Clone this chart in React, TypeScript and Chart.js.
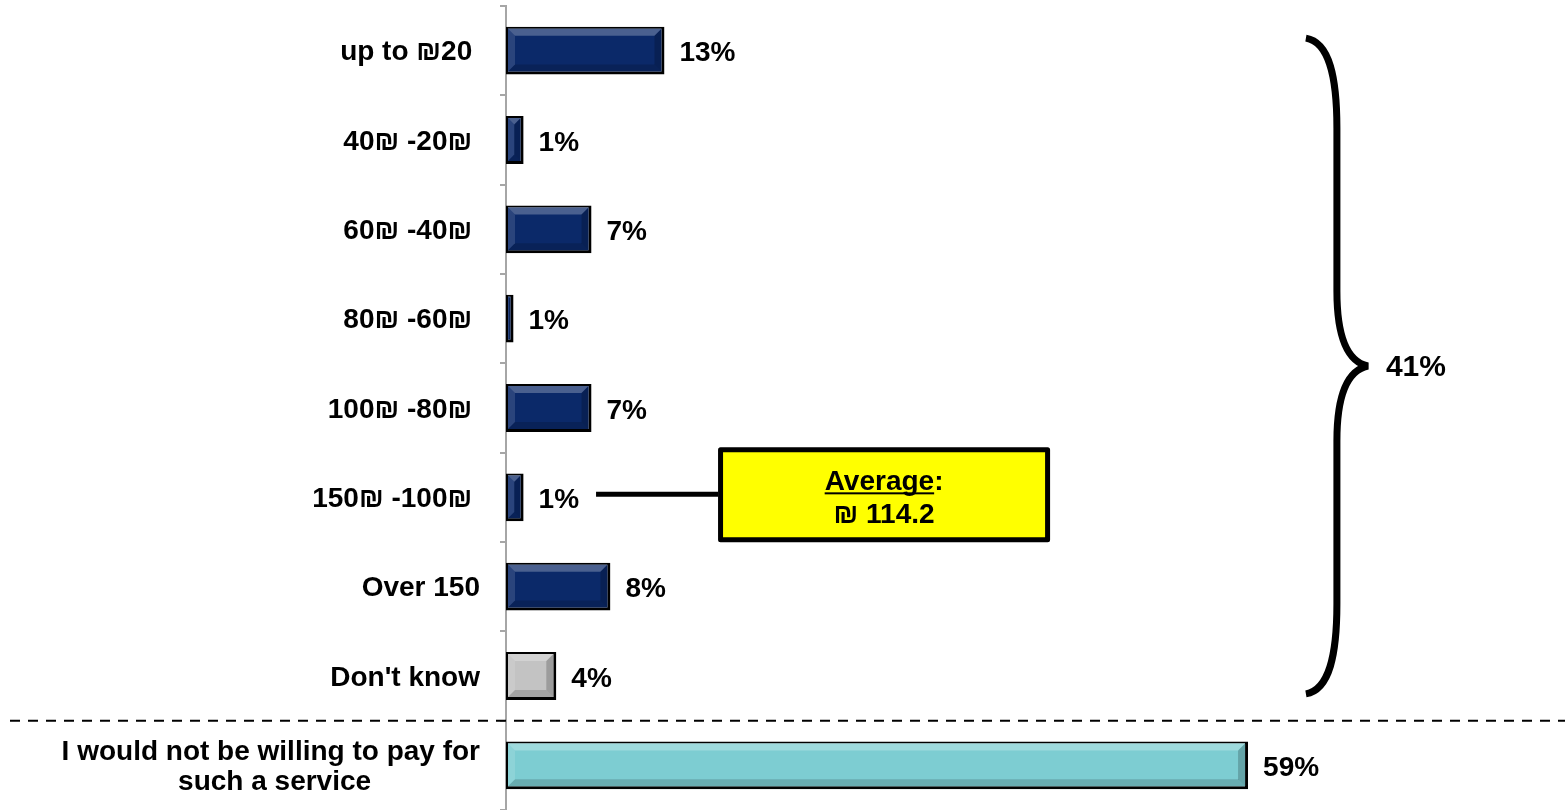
import React, { useEffect, useRef } from "react";
import { Chart, registerables } from "chart.js";

Chart.register(...registerables);

// ---------- data ----------
const categories: (string | string[])[] = [
  "up to ₪20 ",
  "40₪ -20₪ ",
  "60₪ -40₪ ",
  "80₪ -60₪ ",
  "100₪ -80₪ ",
  "150₪ -100₪ ",
  "Over 150",
  "Don't know",
  ["I would not be willing to pay for", "such a service"],
];
const values = [12.6, 1.4, 6.8, 0.6, 6.8, 1.4, 8.3, 4.0, 59.0];
const barColors = [
  "#0b2969",
  "#0b2969",
  "#0b2969",
  "#0b2969",
  "#0b2969",
  "#0b2969",
  "#0b2969",
  "#c3c3c3",
  "#7dcdd2",
];
const groupTotal = 41; // share willing to pay (bracketed group)
const averageValue = 114.2;
const xMax = 84.2;

const FONT = '"Liberation Sans", Arial, "DejaVu Sans", sans-serif';

// ---------- plugins ----------
const bevelPlugin = {
  id: "bevel",
  afterDatasetsDraw(chart: any) {
    const ctx = chart.ctx;
    const meta = chart.getDatasetMeta(0);
    ctx.save();
    meta.data.forEach((el: any) => {
      const p = el.getProps(["x", "y", "base", "height"], true);
      const l = Math.min(p.base, p.x) + 2;
      const r = Math.max(p.base, p.x) - 3;
      const t = p.y - p.height / 2 + 2;
      const bm = p.y + p.height / 2 - 3;
      if (r - l <= 1) return;
      const b = Math.min(7, (r - l) / 2, (bm - t) / 2);
      const poly = (pts: number[][], color: string) => {
        ctx.beginPath();
        ctx.moveTo(pts[0][0], pts[0][1]);
        for (let i = 1; i < pts.length; i++) ctx.lineTo(pts[i][0], pts[i][1]);
        ctx.closePath();
        ctx.fillStyle = color;
        ctx.fill();
      };
      poly([[l, t], [r, t], [r - b, t + b], [l + b, t + b]], "rgba(255,255,255,0.26)");
      poly([[l, t], [l + b, t + b], [l + b, bm - b], [l, bm]], "rgba(255,255,255,0.13)");
      poly([[l, bm], [l + b, bm - b], [r - b, bm - b], [r, bm]], "rgba(0,0,0,0.16)");
      poly([[r, t], [r, bm], [r - b, bm - b], [r - b, t + b]], "rgba(0,0,0,0.2)");
    });
    ctx.restore();
  },
};

const valueLabelPlugin = {
  id: "valueLabels",
  afterDatasetsDraw(chart: any) {
    const ctx = chart.ctx;
    const meta = chart.getDatasetMeta(0);
    ctx.save();
    ctx.font = `bold 28px ${FONT}`;
    ctx.fillStyle = "#000";
    ctx.textAlign = "left";
    ctx.textBaseline = "middle";
    meta.data.forEach((el: any, i: number) => {
      const p = el.getProps(["x", "y"], true);
      ctx.fillText(`${Math.round(values[i])}%`, p.x + 15, p.y + 3);
    });
    ctx.restore();
  },
};

const annotationPlugin = {
  id: "annotations",
  afterDraw(chart: any) {
    const ctx = chart.ctx;
    const xs = chart.scales.x;
    const ys = chart.scales.y;
    const band = ys.getPixelForValue(1) - ys.getPixelForValue(0);

    ctx.save();
    // dashed separator between the payers and the non-payers
    const sepY = (ys.getPixelForValue(7) + ys.getPixelForValue(8)) / 2;
    ctx.setLineDash([10, 8]);
    ctx.lineWidth = 2;
    ctx.strokeStyle = "#000";
    ctx.beginPath();
    ctx.moveTo(10, sepY);
    ctx.lineTo(chart.width, sepY);
    ctx.stroke();
    ctx.setLineDash([]);

    // curly brace
    const top = ys.getPixelForValue(0) - 0.14 * band;
    const bottom = ys.getPixelForValue(7) + 0.2 * band;
    const mid = (top + bottom) / 2;
    const bx = xs.getPixelForValue(63.6);
    const stem = bx + 31;
    const tip = bx + 62;
    ctx.lineWidth = 7;
    ctx.lineJoin = "miter";
    ctx.miterLimit = 1.5;
    ctx.beginPath();
    ctx.moveTo(bx, top);
    ctx.bezierCurveTo(bx + 24, top + 4, stem, top + 40, stem, top + 90);
    ctx.lineTo(stem, mid - 75);
    ctx.bezierCurveTo(stem, mid - 25, stem + 12, mid - 4, tip, mid);
    ctx.bezierCurveTo(stem + 12, mid + 4, stem, mid + 25, stem, mid + 75);
    ctx.lineTo(stem, bottom - 90);
    ctx.bezierCurveTo(stem, bottom - 40, bx + 24, bottom - 4, bx, bottom);
    ctx.stroke();

    ctx.font = `bold 30px ${FONT}`;
    ctx.fillStyle = "#000";
    ctx.textAlign = "left";
    ctx.textBaseline = "middle";
    ctx.fillText(`${groupTotal}%`, tip + 18, mid + 2);

    // average callout
    const rowY = ys.getPixelForValue(5);
    const lineY = rowY - 3;
    const boxL = xs.getPixelForValue(16.86);
    const boxR = xs.getPixelForValue(43.26);
    const boxT = rowY - 50;
    const boxB = rowY + 45;
    ctx.lineWidth = 5;
    ctx.beginPath();
    ctx.moveTo(xs.getPixelForValue(7.16), lineY);
    ctx.lineTo(boxL, lineY);
    ctx.stroke();

    ctx.fillStyle = "#ffff00";
    ctx.beginPath();
    ctx.rect(boxL + 2.5, boxT + 2.5, boxR - boxL - 5, boxB - boxT - 5);
    ctx.fill();
    ctx.lineJoin = "round";
    ctx.stroke();

    const cx = (boxL + boxR) / 2;
    ctx.font = `bold 28px ${FONT}`;
    ctx.fillStyle = "#000";
    ctx.textBaseline = "alphabetic";
    ctx.textAlign = "left";
    const t1 = "Average:";
    const w1 = ctx.measureText(t1).width;
    const wU = ctx.measureText("Average").width;
    const sx = cx - w1 / 2;
    const base1 = rowY - 7;
    ctx.fillText(t1, sx, base1);
    ctx.fillRect(sx, base1 + 2, wU, 2);
    ctx.textAlign = "center";
    ctx.fillText(`₪ ${averageValue}`, cx, rowY + 26);
    ctx.restore();
  },
};

export default function App() {
  const ref = useRef<HTMLCanvasElement>(null);

  useEffect(() => {
    const canvas = ref.current;
    if (!canvas) return;
    const chart = new Chart(canvas, {
      type: "bar",
      data: {
        labels: categories as any,
        datasets: [
          {
            data: values,
            backgroundColor: barColors,
            borderColor: "#000",
            borderWidth: { top: 2, left: 2, right: 3, bottom: 3 },
            borderSkipped: false,
            barPercentage: 0.535,
            categoryPercentage: 1,
          },
        ],
      },
      options: {
        indexAxis: "y",
        animation: false,
        responsive: false,
        devicePixelRatio: 1,
        layout: { padding: { top: 6, bottom: 0, left: 0, right: 0 } },
        plugins: {
          legend: { display: false },
          tooltip: { enabled: false },
        },
        scales: {
          x: {
            display: false,
            min: 0,
            max: xMax,
          },
          y: {
            afterFit: (scale: any) => {
              scale.width = 506;
              scale.paddingTop = 0;
              scale.paddingBottom = 0;
            },
            grid: {
              display: true,
              drawOnChartArea: false,
              drawTicks: true,
              tickLength: 6,
              color: "#a6a6a6",
              lineWidth: 2,
              offset: true,
            },
            border: { display: true, color: "#a6a6a6", width: 2 },
            ticks: {
              autoSkip: false,
              color: "#000",
              padding: 20,
              labelOffset: 2,
              font: { family: FONT, size: 28, weight: "bold", lineHeight: 1.1 },
              callback: (_v: any, i: number) => {
                const l = categories[i];
                if (Array.isArray(l)) return [l[0], l[1] + " ".repeat(14)];
                return l;
              },
            },
          },
        },
      },
      plugins: [bevelPlugin, valueLabelPlugin, annotationPlugin],
    } as any);
    return () => chart.destroy();
  }, []);

  return (
    <div
      style={{
        position: "fixed",
        left: 0,
        top: 0,
        width: 1565,
        height: 810,
        background: "#fff",
      }}
    >
      <canvas
        ref={ref}
        width={1565}
        height={810}
        style={{ display: "block", width: 1565, height: 810 }}
      />
    </div>
  );
}
